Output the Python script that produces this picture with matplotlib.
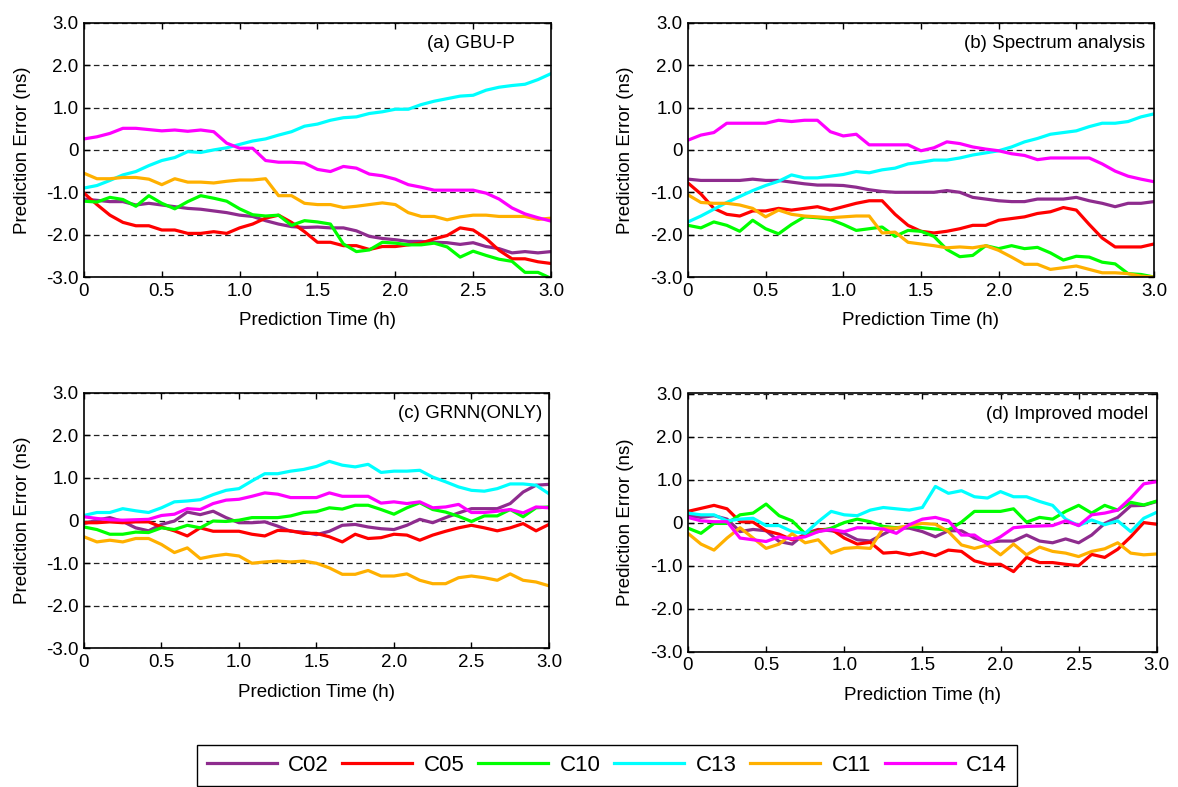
import matplotlib
matplotlib.use("Agg")
import matplotlib.pyplot as plt
from matplotlib.ticker import FuncFormatter

plt.rcParams['font.family'] = ['Liberation Sans', 'DejaVu Sans']
plt.rcParams['axes.unicode_minus'] = False

# sampling: every 5 minutes over 3 h
time_h = [i / 12 for i in range(37)]

stations = ["C02", "C05", "C10", "C13", "C11", "C14"]
colors = ["#8E2C8E", "#FF0000", "#00FF00", "#00FFFF", "#FFB000", "#FF00FF"]

# (a) GBU-P
a_c02 = [-1.16, -1.19, -1.22, -1.22, -1.30, -1.26, -1.30, -1.34, -1.38, -1.40, -1.44, -1.48, -1.54, -1.57, -1.67, -1.75, -1.81, -1.83,
         -1.82, -1.84, -1.84, -1.91, -2.04, -2.09, -2.12, -2.16, -2.16, -2.18, -2.19, -2.23, -2.19, -2.28, -2.33, -2.43, -2.40, -2.43, -2.40]
a_c05 = [-1.02, -1.29, -1.54, -1.71, -1.79, -1.79, -1.89, -1.89, -1.97, -1.97, -1.93, -1.97, -1.84, -1.75, -1.61, -1.54, -1.71, -1.93,
         -2.18, -2.18, -2.26, -2.26, -2.35, -2.28, -2.28, -2.24, -2.20, -2.10, -2.02, -1.84, -1.89, -2.09, -2.37, -2.57, -2.57, -2.64, -2.68]
a_c10 = [-1.21, -1.23, -1.12, -1.17, -1.33, -1.08, -1.26, -1.39, -1.22, -1.08, -1.14, -1.21, -1.39, -1.53, -1.56, -1.54, -1.78, -1.67,
         -1.70, -1.75, -2.22, -2.40, -2.36, -2.18, -2.20, -2.24, -2.24, -2.20, -2.29, -2.53, -2.39, -2.49, -2.58, -2.63, -2.89, -2.89, -3.03]
a_c13 = [-0.90, -0.84, -0.72, -0.59, -0.51, -0.37, -0.25, -0.18, -0.04, -0.06, 0.00, 0.05, 0.13, 0.21, 0.26, 0.35, 0.43, 0.56,
         0.61, 0.70, 0.76, 0.78, 0.86, 0.90, 0.96, 0.96, 1.07, 1.15, 1.21, 1.27, 1.29, 1.41, 1.48, 1.52, 1.55, 1.66, 1.80]
a_c11 = [-0.55, -0.68, -0.68, -0.65, -0.65, -0.69, -0.82, -0.68, -0.76, -0.76, -0.78, -0.74, -0.71, -0.71, -0.68, -1.08, -1.08, -1.26,
         -1.29, -1.29, -1.36, -1.33, -1.29, -1.25, -1.29, -1.48, -1.57, -1.57, -1.65, -1.58, -1.54, -1.54, -1.57, -1.57, -1.57, -1.64, -1.61]
a_c14 = [0.26, 0.31, 0.39, 0.51, 0.51, 0.48, 0.45, 0.47, 0.44, 0.47, 0.43, 0.16, 0.04, 0.04, -0.25, -0.29, -0.29, -0.31,
         -0.46, -0.51, -0.39, -0.43, -0.57, -0.61, -0.69, -0.82, -0.88, -0.95, -0.95, -0.95, -0.95, -1.02, -1.16, -1.37, -1.51, -1.60, -1.68]

# (b) Spectrum analysis
b_c02 = [-0.69, -0.72, -0.72, -0.72, -0.72, -0.69, -0.72, -0.72, -0.76, -0.80, -0.83, -0.83, -0.84, -0.88, -0.94, -0.98, -1.00, -1.00,
         -1.00, -1.00, -0.96, -1.00, -1.12, -1.16, -1.20, -1.22, -1.22, -1.16, -1.16, -1.16, -1.12, -1.20, -1.26, -1.34, -1.26, -1.26, -1.22]
b_c05 = [-0.78, -1.04, -1.38, -1.52, -1.56, -1.44, -1.44, -1.38, -1.42, -1.38, -1.34, -1.42, -1.34, -1.26, -1.20, -1.20, -1.52, -1.78,
         -1.92, -1.96, -1.92, -1.86, -1.78, -1.78, -1.66, -1.62, -1.58, -1.50, -1.46, -1.36, -1.42, -1.76, -2.08, -2.29, -2.29, -2.29, -2.22]
b_c10 = [-1.78, -1.84, -1.70, -1.78, -1.92, -1.66, -1.86, -1.98, -1.76, -1.58, -1.60, -1.64, -1.76, -1.90, -1.86, -1.82, -2.04, -1.90,
         -1.92, -2.04, -2.35, -2.52, -2.49, -2.26, -2.33, -2.26, -2.33, -2.30, -2.43, -2.60, -2.51, -2.53, -2.65, -2.69, -2.92, -2.94, -3.00]
b_c13 = [-1.70, -1.56, -1.40, -1.24, -1.10, -0.96, -0.84, -0.74, -0.59, -0.66, -0.66, -0.62, -0.58, -0.51, -0.54, -0.47, -0.43, -0.33,
         -0.29, -0.24, -0.24, -0.19, -0.12, -0.07, -0.02, 0.07, 0.19, 0.27, 0.37, 0.41, 0.45, 0.55, 0.63, 0.63, 0.67, 0.78, 0.85]
b_c11 = [-1.06, -1.24, -1.26, -1.26, -1.30, -1.38, -1.58, -1.42, -1.52, -1.56, -1.58, -1.60, -1.58, -1.56, -1.56, -1.96, -1.94, -2.18,
         -2.22, -2.26, -2.31, -2.29, -2.31, -2.26, -2.37, -2.53, -2.70, -2.70, -2.82, -2.78, -2.74, -2.82, -2.90, -2.90, -2.92, -2.98, -3.00]
b_c14 = [0.23, 0.35, 0.41, 0.63, 0.63, 0.63, 0.63, 0.70, 0.67, 0.70, 0.70, 0.43, 0.33, 0.37, 0.12, 0.12, 0.12, 0.12,
         -0.02, 0.05, 0.19, 0.15, 0.07, 0.02, -0.02, -0.09, -0.13, -0.23, -0.19, -0.19, -0.19, -0.19, -0.33, -0.50, -0.62, -0.69, -0.75]

# (c) GRNN(ONLY)
c_c02 = [-0.07, 0.01, 0.07, -0.02, -0.17, -0.24, -0.09, -0.01, 0.20, 0.14, 0.22, 0.07, -0.05, -0.05, -0.03, -0.13, -0.25, -0.27,
         -0.33, -0.25, -0.11, -0.09, -0.15, -0.19, -0.21, -0.11, 0.03, -0.05, 0.07, 0.18, 0.28, 0.28, 0.28, 0.40, 0.67, 0.83, 0.85]
c_c05 = [-0.05, -0.05, -0.03, -0.05, -0.03, -0.03, -0.15, -0.24, -0.36, -0.17, -0.25, -0.25, -0.25, -0.32, -0.36, -0.23, -0.24, -0.30,
         -0.30, -0.38, -0.50, -0.32, -0.42, -0.40, -0.32, -0.34, -0.46, -0.34, -0.25, -0.17, -0.11, -0.17, -0.24, -0.17, -0.07, -0.24, -0.09]
c_c10 = [-0.15, -0.21, -0.32, -0.32, -0.27, -0.28, -0.17, -0.21, -0.11, -0.17, -0.01, -0.02, 0.01, 0.07, 0.07, 0.07, 0.11, 0.19,
         0.21, 0.30, 0.27, 0.36, 0.36, 0.26, 0.15, 0.30, 0.42, 0.26, 0.20, 0.10, -0.02, 0.11, 0.11, 0.26, 0.09, 0.30, 0.32]
c_c13 = [0.12, 0.19, 0.19, 0.28, 0.23, 0.19, 0.30, 0.44, 0.46, 0.49, 0.61, 0.71, 0.75, 0.93, 1.10, 1.10, 1.16, 1.20,
         1.27, 1.39, 1.30, 1.26, 1.32, 1.13, 1.16, 1.16, 1.18, 1.02, 0.91, 0.79, 0.71, 0.69, 0.75, 0.86, 0.86, 0.83, 0.63]
c_c11 = [-0.38, -0.50, -0.46, -0.50, -0.42, -0.42, -0.56, -0.75, -0.64, -0.89, -0.83, -0.79, -0.83, -1.00, -0.97, -0.95, -0.97, -0.95,
         -1.00, -1.11, -1.26, -1.26, -1.17, -1.30, -1.30, -1.25, -1.40, -1.48, -1.48, -1.34, -1.30, -1.34, -1.40, -1.25, -1.40, -1.44, -1.53]
c_c14 = [0.09, 0.05, 0.02, 0.01, 0.02, 0.03, 0.12, 0.15, 0.28, 0.26, 0.40, 0.48, 0.50, 0.57, 0.65, 0.62, 0.54, 0.54,
         0.54, 0.65, 0.57, 0.57, 0.57, 0.41, 0.44, 0.40, 0.44, 0.30, 0.32, 0.38, 0.19, 0.19, 0.22, 0.26, 0.18, 0.32, 0.30]

# (d) Improved model
d_c02 = [0.16, 0.12, 0.16, 0.08, -0.21, -0.16, -0.19, -0.44, -0.50, -0.25, -0.16, -0.19, -0.25, -0.40, -0.43, -0.27, -0.12, -0.13,
         -0.21, -0.33, -0.19, -0.19, -0.36, -0.46, -0.43, -0.43, -0.29, -0.43, -0.47, -0.38, -0.47, -0.29, -0.02, 0.12, 0.39, 0.40, 0.49]
d_c05 = [0.26, 0.33, 0.40, 0.32, 0.02, 0.01, -0.19, -0.27, -0.40, -0.29, -0.17, -0.15, -0.36, -0.50, -0.46, -0.71, -0.69, -0.75,
         -0.69, -0.77, -0.64, -0.67, -0.89, -0.97, -0.97, -1.14, -0.81, -0.93, -0.93, -0.97, -1.00, -0.74, -0.81, -0.62, -0.33, 0.00, -0.04]
d_c10 = [-0.13, -0.25, -0.02, -0.02, 0.18, 0.22, 0.43, 0.16, 0.04, -0.26, -0.21, -0.13, 0.00, 0.08, 0.02, -0.09, -0.12, -0.09,
         -0.12, -0.15, -0.17, 0.01, 0.26, 0.26, 0.26, 0.32, 0.01, 0.12, 0.08, 0.26, 0.40, 0.22, 0.40, 0.29, 0.47, 0.41, 0.50]
d_c13 = [0.22, 0.18, 0.18, 0.04, 0.08, 0.10, -0.07, -0.07, -0.21, -0.25, 0.02, 0.26, 0.18, 0.16, 0.29, 0.35, 0.32, 0.29,
         0.35, 0.84, 0.68, 0.74, 0.60, 0.57, 0.72, 0.60, 0.60, 0.49, 0.40, 0.08, -0.07, 0.06, -0.05, 0.04, -0.21, 0.10, 0.24]
d_c11 = [-0.25, -0.50, -0.64, -0.36, -0.12, -0.36, -0.60, -0.50, -0.26, -0.47, -0.40, -0.71, -0.60, -0.58, -0.60, -0.13, -0.13, -0.07,
         -0.02, -0.04, -0.21, -0.52, -0.60, -0.52, -0.75, -0.50, -0.75, -0.57, -0.67, -0.71, -0.79, -0.67, -0.61, -0.47, -0.71, -0.75, -0.73]
d_c14 = [0.12, 0.04, 0.02, 0.02, -0.36, -0.40, -0.44, -0.33, -0.38, -0.33, -0.21, -0.16, -0.21, -0.12, -0.13, -0.15, -0.25, -0.05,
         0.08, 0.12, 0.04, -0.29, -0.29, -0.50, -0.33, -0.12, -0.09, -0.08, -0.07, 0.04, -0.07, 0.18, 0.22, 0.29, 0.57, 0.90, 0.95]

panels = [
    ("(a) GBU-P", [a_c02, a_c05, a_c10, a_c13, a_c11, a_c14], [0.0713, 0.648, 0.3964, 0.323], 0.923),
    ("(b) Spectrum analysis", [b_c02, b_c05, b_c10, b_c13, b_c11, b_c14], [0.584, 0.648, 0.3956, 0.323], 0.981),
    ("(c) GRNN(ONLY)", [c_c02, c_c05, c_c10, c_c13, c_c11, c_c14], [0.0713, 0.176, 0.3947, 0.325], 0.985),
    ("(d) Improved model", [d_c02, d_c05, d_c10, d_c13, d_c11, d_c14], [0.584, 0.172, 0.398, 0.328], 0.981),
]

FS = 13.5


def fmt_tick(v, pos):
    return "0" if abs(v) < 1e-9 else "%.1f" % v


fig = plt.figure(figsize=(11.78, 7.87), dpi=100)

handles = []
for title, series, rect, tx in panels:
    ax = fig.add_axes(rect)
    for vals, name, c in zip(series, stations, colors):
        ln, = ax.plot(time_h, vals, color=c, lw=2.3, label=name)
        if len(handles) < len(stations):
            handles.append(ln)
    ax.set_xlim(0, 3)
    ax.set_ylim(-3, 3)
    ax.set_xticks([0, 0.5, 1.0, 1.5, 2.0, 2.5, 3.0])
    ax.set_yticks([-3, -2, -1, 0, 1, 2, 3])
    ax.xaxis.set_major_formatter(FuncFormatter(fmt_tick))
    ax.yaxis.set_major_formatter(FuncFormatter(fmt_tick))
    ax.tick_params(direction="in", top=True, right=True, length=4, width=1,
                   labelsize=FS, pad=4)
    ax.yaxis.grid(True, color="#222222", lw=0.9, linestyle=(0, (4.5, 3.0)))
    ax.set_axisbelow(True)
    for s in ax.spines.values():
        s.set_linewidth(1.2)
    ax.set_xlabel("Prediction Time (h)", fontsize=FS, labelpad=9)
    ax.set_ylabel("Prediction Error (ns)", fontsize=FS, labelpad=11)
    ax.text(tx, 0.92, title, transform=ax.transAxes, ha="right", va="center",
            fontsize=FS)

fig.legend(handles, stations, loc="upper center", bbox_to_anchor=(0.515, 0.0534),
           ncol=6, fontsize=16, frameon=True, fancybox=False, edgecolor="black",
           framealpha=1, handlelength=3.15, handletextpad=0.5, columnspacing=0.63,
           borderpad=0.45, borderaxespad=0)

fig.savefig("out.png", dpi=100)
